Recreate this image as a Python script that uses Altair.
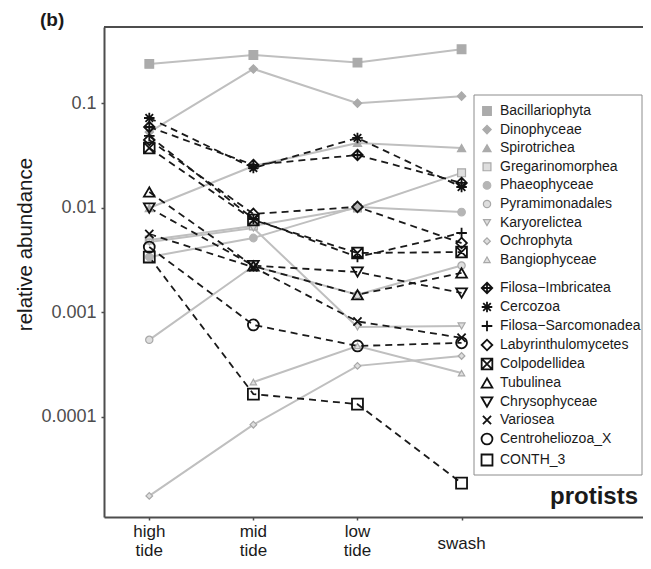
import json
import altair as alt
import pandas as pd

FONT = "Liberation Sans"

# ---------------- data ----------------
positions = [1, 2, 3, 4]
x_tick_labels = ["high\ntide", "mid\ntide", "low\ntide", "swash"]
y_tick_values = [0.1, 0.01, 0.001, 0.0001]
y_tick_labels = ["0.1", "0.01", "0.001", "0.0001"]

# gray (solid line) taxa
gray_names = ["Bacillariophyta", "Dinophyceae", "Spirotrichea", "Gregarinomorphea",
              "Phaeophyceae", "Pyramimonadales", "Karyorelictea", "Ochrophyta",
              "Bangiophyceae"]
bacillariophyta = [0.238, 0.290, 0.245, 0.329]
dinophyceae = [0.053, 0.213, 0.100, 0.117]
spirotrichea = [0.00995, 0.0251, 0.0417, 0.0373]
gregarinomorphea = [0.00492, 0.0067, 0.00995, 0.0216]
phaeophyceae = [0.00338, 0.00514, 0.0102, 0.0091]
pyramimonadales = [0.000545, 0.00277, 0.00147, 0.0028]
karyorelictea = [0.0047, 0.0064, 0.000724, 0.00074]
ochrophyta = [1.75e-5, 8.4e-5, 0.000307, 0.000382]
bangiophyceae = [None, 0.000215, 0.000476, 0.000262]
gray_series = [bacillariophyta, dinophyceae, spirotrichea, gregarinomorphea,
               phaeophyceae, pyramimonadales, karyorelictea, ochrophyta, bangiophyceae]

# black (dashed line) taxa
black_names = ["Filosa\u2212Imbricatea", "Cercozoa", "Filosa\u2212Sarcomonadea",
               "Labyrinthulomycetes", "Colpodellidea", "Tubulinea", "Chrysophyceae",
               "Variosea", "Centroheliozoa_X", "CONTH_3"]
filosa_imbricatea = [0.0593, 0.0257, 0.032, 0.0173]
cercozoa = [0.0723, 0.024, 0.0466, 0.0158]
filosa_sarcomonadea = [0.0487, 0.00781, 0.00338, 0.00574]
labyrinthulomycetes = [0.0446, 0.00873, 0.0102, 0.0046]
colpodellidea = [0.0373, 0.00764, 0.00369, 0.00377]
tubulinea = [0.01416, 0.00277, 0.00147, 0.00238]
chrysophyceae = [0.00995, 0.0028, 0.00243, 0.00153]
variosea = [0.00561, 0.0027, 0.000817, 0.00057]
centroheliozoa_x = [0.00421, 0.000757, 0.000476, 0.00051]
conth_3 = [0.00338, 0.000165, 0.000132, 2.32e-5]
black_series = [filosa_imbricatea, cercozoa, filosa_sarcomonadea, labyrinthulomycetes,
                colpodellidea, tubulinea, chrysophyceae, variosea, centroheliozoa_x, conth_3]

panel_label = "(b)"
group_label = "protists"
y_title = "relative abundance"

# ---------------- styling ----------------
G = "#ababab"
L = "#dedede"
GS = "#a8a8a8"
gray_shapes = ["square", "diamond", "triangle-up", "square", "circle", "circle",
               "triangle-down", "diamond", "triangle-up"]
gray_fills = [G, G, G, L, "#b5b5b5", L, L, L, L]
gray_strokes = [G, G, G, GS, "#b5b5b5", GS, GS, GS, GS]
gray_sizes = [75, 40, 110, 75, 70, 80, 120, 90, 120]

black_shapes = [
    "M0,-1L1,0L0,1L-1,0Z M0,-1L0,1 M-1,0L1,0",
    "M-1,0L1,0 M0,-1L0,1 M-0.72,-0.72L0.72,0.72 M-0.72,0.72L0.72,-0.72",
    "M-1,0L1,0 M0,-1L0,1",
    "diamond",
    "M-1,-1L1,-1L1,1L-1,1Z M-1,-1L1,1 M-1,1L1,-1",
    "triangle-up",
    "triangle-down",
    "M-0.75,-0.75L0.75,0.75 M-0.75,0.75L0.75,-0.75",
    "circle",
    "square",
]
black_sizes = [110, 120, 100, 110, 80, 140, 140, 110, 75, 75]

rows = []
for name, vals in zip(gray_names, gray_series):
    for p, v in zip(positions, vals):
        if v is not None:
            rows.append({"series": name, "group": "gray", "pos": p, "value": v})
for name, vals in zip(black_names, black_series):
    for p, v in zip(positions, vals):
        if v is not None:
            rows.append({"series": name, "group": "black", "pos": p, "value": v})
df = pd.DataFrame(rows)
gray_df = df[df.group == "gray"]
black_df = df[df.group == "black"]

xlab_df = pd.DataFrame({"pos": positions, "label": x_tick_labels})
xlab_multi = xlab_df[xlab_df.label.str.contains("\n")]
xlab_single = xlab_df[~xlab_df.label.str.contains("\n")]

W, H = 539, 490
X_DOMAIN = [0.565, 5.743]


def nested(values, labels, default):
    expr = json.dumps(default)
    for v, lab in reversed(list(zip(values, labels))):
        expr = f"datum.value == {v} ? {json.dumps(lab)} : ({expr})"
    return expr


x_scale = alt.Scale(domain=X_DOMAIN, nice=False, zero=False)
x_enc = alt.X(
    "pos:Q", scale=x_scale,
    axis=alt.Axis(values=positions, labels=False, title=None, tickSize=3),
)
y_enc = alt.Y(
    "value:Q",
    scale=alt.Scale(type="log", domain=[1.099e-5, 0.537], nice=False),
    axis=alt.Axis(values=y_tick_values, labelExpr=nested(y_tick_values, y_tick_labels, ""),
                  title=y_title, titleFont=FONT, titleFontSize=20.5, titleFontWeight="normal",
                  titleColor="#1a1a1a", titleAngle=270, titleX=-73, titleY=217,
                  titleAlign="center", titleBaseline="alphabetic",
                  labelFont=FONT, labelFontSize=18, labelColor="#4d4d4d",
                  labelPadding=5, tickSize=3, labelOverlap=False),
)

gray_lines = alt.Chart(gray_df).mark_line(color="#bfbfbf", strokeWidth=2).encode(
    x=x_enc, y=y_enc, detail="series:N", order="pos:Q")
black_lines = alt.Chart(black_df).mark_line(color="#1a1a1a", strokeWidth=1.8,
                                            strokeDash=[7, 5]).encode(
    x=x_enc, y=y_enc, detail="series:N", order="pos:Q")

LEG_X = 376
gray_legend = alt.Legend(title=None, orient="none", legendX=LEG_X, legendY=77, padding=0,
                         labelFont=FONT, labelFontSize=14, labelColor="#1a1a1a",
                         labelOffset=6, rowPadding=4.6, symbolStrokeWidth=1.2,
                         labelLimit=250)
gray_points = alt.Chart(gray_df).mark_point(filled=True, opacity=1, strokeWidth=1.2).encode(
    x=x_enc, y=y_enc,
    shape=alt.Shape("series:N", scale=alt.Scale(domain=gray_names, range=gray_shapes),
                    legend=gray_legend),
    fill=alt.Fill("series:N", scale=alt.Scale(domain=gray_names, range=gray_fills),
                  legend=gray_legend),
    stroke=alt.Stroke("series:N", scale=alt.Scale(domain=gray_names, range=gray_strokes),
                      legend=gray_legend),
    size=alt.Size("series:N", scale=alt.Scale(domain=gray_names, range=gray_sizes),
                  legend=gray_legend),
)

black_legend = alt.Legend(title=None, orient="none", legendX=LEG_X, legendY=254, padding=0,
                          labelFont=FONT, labelFontSize=14, labelColor="#1a1a1a",
                          labelOffset=6, rowPadding=1.0, symbolStrokeWidth=1.8,
                          symbolStrokeColor="#111111", labelLimit=250)
black_points = alt.Chart(black_df).mark_point(filled=False, opacity=1, color="#111111",
                                              strokeWidth=1.8).encode(
    x=x_enc, y=y_enc,
    shape=alt.Shape("series:N", scale=alt.Scale(domain=black_names, range=black_shapes),
                    legend=black_legend),
    size=alt.Size("series:N", scale=alt.Scale(domain=black_names, range=black_sizes),
                  legend=black_legend),
)

# x tick labels (two-line ones, and single-line ones centred between the lines)
xlab_two = alt.Chart(xlab_multi).mark_text(
    font=FONT, fontSize=17, color="#1a1a1a", align="center", baseline="alphabetic",
    lineBreak="\n", lineHeight=19,
).encode(x=alt.X("pos:Q", scale=x_scale), y=alt.value(510), text="label:N")
xlab_one = alt.Chart(xlab_single).mark_text(
    font=FONT, fontSize=17, color="#1a1a1a", align="center", baseline="alphabetic",
).encode(x=alt.X("pos:Q", scale=x_scale), y=alt.value(522), text="label:N")

one = pd.DataFrame({"a": [0]})
top_border = alt.Chart(one).mark_rule(color="#4d4d4d", strokeWidth=2).encode(
    x=alt.value(0), x2=alt.value(W), y=alt.value(0))
legend_box = alt.Chart(one).mark_rect(fillOpacity=0, stroke="#8c8c8c", strokeWidth=1).encode(
    x=alt.value(LEG_X - 6), x2=alt.value(W - 1), y=alt.value(68), y2=alt.value(448))
panel_text = alt.Chart(one).mark_text(text=panel_label, font=FONT, fontSize=19,
                                      fontWeight="bold", align="left",
                                      baseline="alphabetic", color="#1a1a1a").encode(
    x=alt.value(-64), y=alt.value(-1))
group_text = alt.Chart(one).mark_text(text=group_label, font=FONT, fontSize=24,
                                      fontWeight="bold", align="right",
                                      baseline="alphabetic", color="#1a1a1a").encode(
    x=alt.value(534), y=alt.value(477))

chart = alt.layer(
    gray_lines, black_lines, gray_points, black_points,
    xlab_two, xlab_one,
    top_border, legend_box, panel_text, group_text,
).resolve_scale(
    shape="independent", fill="independent", stroke="independent", size="independent"
).properties(
    width=W, height=H,
    padding={"left": 96, "top": 19, "right": 0, "bottom": 44},
    autosize=alt.AutoSizeParams(type="none"),
    background="white",
).configure_view(stroke=None).configure_axis(
    grid=False, domainColor="#4d4d4d", domainWidth=2, tickColor="#4d4d4d", tickWidth=1.5,
)

chart.save("out.html", embed_options={"renderer": "svg", "actions": False})
